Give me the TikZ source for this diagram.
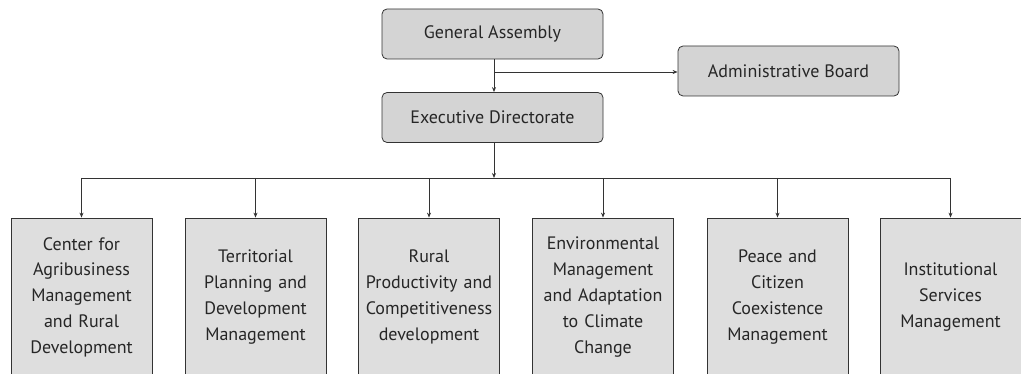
\documentclass[tikz,border=0pt]{standalone}
\usepackage{fontspec}
\setmainfont{PT Sans}
\usetikzlibrary{arrows.meta}

\tikzset{
  topbox/.style={draw=black!80, fill=black!17, rounded corners=5pt, thick,
    minimum width=221pt, minimum height=50pt, text=black!85,
    font=\fontsize{18}{22}\selectfont},
  unitbox/.style={draw=black!80, fill=black!13, thick, minimum width=141pt,
    minimum height=158pt, inner xsep=3pt, text width=134pt, align=center,
    text=black!85, font=\fontsize{18}{25.8}\selectfont},
  arr/.style={-{Stealth[length=5pt,width=4pt]}, black!80, thick},
  lnk/.style={black!80, thick}
}

\begin{document}
\begin{tikzpicture}[x=1pt,y=-1pt]
    \useasboundingbox (0,0) rectangle (1021,374);
    \clip (0,0) rectangle (1021,374);
    % upper levels
    \node [topbox] (assembly) at (492.5,34) {General Assembly};
    \node [topbox] (directorate) at (492.5,117.5) {Executive Directorate};
    \node [topbox] (board) at (788.5,71) {Administrative Board};
    \coordinate (split) at (494,72);
    \coordinate (bar) at (494,178);
    \draw [arr] (assembly.south -| split) -- (directorate.north -| split);
    \draw [arr] (split) -- (split -| board.west);
    \draw [arr] (directorate.south -| bar) -- (bar);
    % management units
    \node [unitbox] (u1) at (81.5,297) {Center for\\Agribusiness\\Management\\and Rural\\Development};
    \node [unitbox] (u2) at (255.5,297) {Territorial\\Planning and\\Development\\Management};
    \node [unitbox] (u3) at (429,297) {Rural\\Productivity and\\Competitiveness\\development};
    \node [unitbox] (u4) at (603,297) {Environmental\\Management\\and Adaptation\\to Climate\\Change};
    \node [unitbox] (u5) at (777.5,297) {Peace and\\Citizen\\Coexistence\\Management};
    \node [unitbox] (u6) at (950.5,297) {Institutional\\Services\\Management};
    \draw [lnk] (u1.north |- bar) -- (u6.north |- bar);
    \foreach \u in {u1,u2,u3,u4,u5,u6}
        \draw [arr] (\u.north |- bar) -- (\u.north);
\end{tikzpicture}
\end{document}
